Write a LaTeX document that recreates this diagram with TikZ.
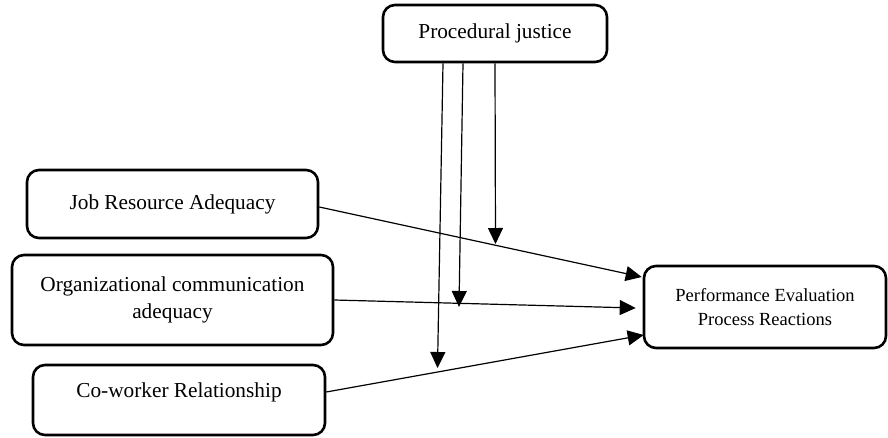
\documentclass[tikz,border=0pt]{standalone}
\usepackage{fontspec}
\setmainfont{Liberation Serif}
\usetikzlibrary{arrows.meta,calc}
\begin{document}
\begin{tikzpicture}[x=1pt,y=-1pt,
  box/.style={draw,line width=2.6pt,rounded corners=12pt,align=center,inner sep=0pt,
    font=\fontsize{21.3}{27}\selectfont},
  smallbox/.style={box,font=\fontsize{18.5}{24}\selectfont},
  arr/.style={line width=1.2pt,-{Triangle[length=16pt,width=15pt]}}]
\useasboundingbox (0,0) rectangle (888,437);
\node[box,minimum width=224pt,minimum height=57pt] (pj) at (495,33.5) {Procedural justice};
\node[box,minimum width=291pt,minimum height=68pt] (jra) at (172.5,204) {Job Resource Adequacy};
\node[box,minimum width=321pt,minimum height=90pt] (occ) at (172.5,300) {Organizational communication\\adequacy};
\node[box,minimum width=292pt,minimum height=70pt,text depth=19pt] (cwr) at (179,400) {Co-worker Relationship};
\node[smallbox,minimum width=242pt,minimum height=82pt] (pe) at (765,307) {Performance Evaluation\\Process Reactions};
% main connectors
\draw[arr] ($(jra.east)+(0,3)$) -- ($(pe.west)+(-1,-30)$);
\draw[arr] (occ.east) -- ($(pe.west)+(-7,1)$);
\draw[arr] ($(cwr.east)+(0,-8)$) -- ($(pe.west)+(1,28)$);
% moderating arrows
\coordinate (m1) at (437.5,368);
\coordinate (m2) at (459,307);
\coordinate (m3) at (495.5,244);
\draw[arr] ($(pj.south)+(-52,0)$) -- (m1);
\draw[arr] ($(pj.south)+(-32,0)$) -- (m2);
\draw[arr] (pj.south) -- (m3);
\end{tikzpicture}
\end{document}
